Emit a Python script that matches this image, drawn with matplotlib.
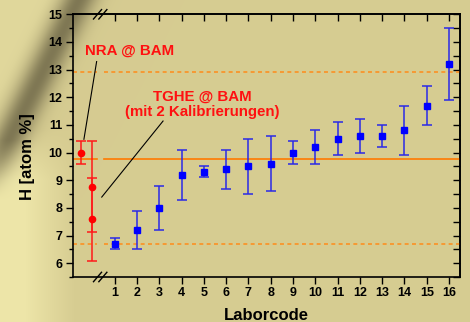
import matplotlib
matplotlib.use("Agg")
import matplotlib.pyplot as plt
import numpy as np

plt.rcParams['font.family'] = ['Liberation Sans', 'DejaVu Sans']
plt.rcParams['font.weight'] = 'bold'

# Laboratory results
labor = list(range(1, 17))
h_labor = [6.7, 7.2, 8.0, 9.2, 9.3, 9.4, 9.5, 9.6,
           10.0, 10.2, 10.5, 10.6, 10.6, 10.8, 11.7, 13.2]
err_labor = [0.2, 0.7, 0.8, 0.9, 0.2, 0.7, 1.0, 1.0,
             0.4, 0.6, 0.6, 0.6, 0.4, 0.9, 0.7, 1.3]

# BAM reference measurements
nra_x = [-0.5]
nra_h = [10.0]
nra_err = [0.4]
tghe_x = [0.0, 0.0]
tghe_h = [8.77, 7.59]
tghe_err = [1.63, 1.5]

# mean and limits
h_mean = 9.78
h_upper = 12.91
h_lower = 6.69

x_break = 0.35

# background: tan photo with a darker diagonal band at the upper left
W, H = 470, 322
px, py = np.meshgrid(np.arange(W), np.arange(H))
base = np.array([0.84, 0.80, 0.57])
light = np.array([0.93, 0.90, 0.66])
dark = np.array([0.50, 0.47, 0.33])
# signed distance from the band centre line (78,0) -> (3,150)
d = (150 * (px - 78) + 75 * py) / np.hypot(150, 75)
band = np.exp(-(np.abs(d) / 16.0) ** 2) * np.clip((200 - py) / 60.0, 0, 1)
lit = np.clip((75 - px) / 50.0, 0, 1) * np.clip((py - 130) / 50.0, 0, 1)
lit = lit + 0.45 * np.clip(-d / 30.0, 0, 1)
bg = base + (light - base) * np.clip(lit, 0, 1)[..., None]
bg = bg + (dark - bg) * band[..., None]

fig = plt.figure(figsize=(4.7, 3.22), dpi=100)
bgax = fig.add_axes([0, 0, 1, 1])
bgax.imshow(bg, aspect='auto', interpolation='bilinear', extent=[0, 1, 0, 1])
bgax.axis('off')

ax = fig.add_axes([0.1553, 0.1398, 0.8234, 0.8158])
ax.set_facecolor('none')

# reference lines, with a gap at the axis break
gap_l, gap_r = x_break - 0.15, x_break + 0.15
xl, xr = -0.87, 16.49
for xs in [(xl, gap_l), (gap_r, xr)]:
    ax.plot(xs, [h_mean, h_mean], color='#ff7a00', lw=1.2, zorder=1)
    ax.plot(xs, [h_upper, h_upper], color='#ff8c1a', lw=1.1,
            dashes=(2.6, 2.2), zorder=1)
    ax.plot(xs, [h_lower, h_lower], color='#ff8c1a', lw=1.1,
            dashes=(2.6, 2.2), zorder=1)

ax.errorbar(labor, h_labor, yerr=err_labor, fmt='s', color='#0000ff',
            ecolor='#2a2ae6', elinewidth=1.1, capsize=3.5, capthick=1.1,
            ms=4.5, zorder=3)
ax.errorbar(nra_x, nra_h, yerr=nra_err, fmt='o', color='#ff0000',
            ecolor='#ff1a1a', elinewidth=1.1, capsize=3.5, capthick=1.1,
            ms=4.5, zorder=3)
ax.errorbar(tghe_x, tghe_h, yerr=tghe_err, fmt='o', color='#ff0000',
            ecolor='#ff1a1a', elinewidth=1.1, capsize=3.5, capthick=1.1,
            ms=4.5, zorder=3)

# annotations
ax.text(1.66, 13.67, 'NRA @ BAM', color='#ff1010', fontsize=10.8,
        fontweight='bold', ha='center', va='center')
ax.text(4.94, 12.02, 'TGHE @ BAM', color='#ff1010', fontsize=10.8,
        fontweight='bold', ha='center', va='center')
ax.text(4.94, 11.46, '(mit 2 Kalibrierungen)', color='#ff1010',
        fontsize=10.8, fontweight='bold', ha='center', va='center')
ax.plot([0.19, -0.38], [13.29, 10.48], color='black', lw=0.8)
ax.plot([0.42, 3.17], [8.39, 11.14], color='black', lw=0.8)

ax.set_xlim(xl, xr)
ax.set_ylim(5.5, 15)
ax.set_xticks(labor)
ax.set_yticks(range(6, 16))
ax.set_yticks(np.arange(5.5, 15.01, 0.5), minor=True)
ax.tick_params(axis='both', which='major', direction='out', length=5,
               width=1, labelsize=9, pad=2.5, top=False, right=False)
ax.tick_params(axis='y', which='minor', direction='out', length=3, width=1)
for lab in ax.get_xticklabels() + ax.get_yticklabels():
    lab.set_fontweight('bold')

top = ax.secondary_xaxis('top')
top.set_xticks(labor)
top.tick_params(direction='in', length=5, width=1, labeltop=False)
right = ax.secondary_yaxis('right')
right.set_yticks(np.arange(5.5, 15.01, 0.5))
right.tick_params(direction='in', length=5, width=1, labelright=False)

for s in list(ax.spines.values()) + [top.spines['top'], right.spines['right']]:
    s.set_linewidth(1.2)

# break marks
for yy in (5.5, 15):
    for dx in (-0.12, 0.12):
        ax.plot([x_break + dx - 0.18, x_break + dx + 0.18],
                [yy - 0.17, yy + 0.17], color='black', lw=1.0,
                clip_on=False, zorder=5)

ax.set_xlabel('Laborcode', fontsize=12, fontweight='bold')
ax.xaxis.set_label_coords(0.5, -0.117)
ax.set_ylabel('H [atom %]', fontsize=12, fontweight='bold')
ax.yaxis.set_label_coords(-0.098, 0.46)

fig.savefig('out.png', dpi=100)
